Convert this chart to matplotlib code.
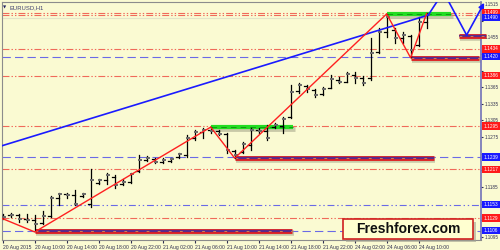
import matplotlib.pyplot as plt
import matplotlib.transforms as mtransforms
from matplotlib.patches import Rectangle

# EURUSD H1, 20 Aug 06:00 .. 24 Aug 11:00
opens = [1.11328, 1.11346, 1.11346, 1.11273, 1.11255, 1.11201, 1.11328, 1.11652, 1.11724, 1.11706,
         1.11688, 1.11544, 1.11922, 1.11977, 1.12031, 1.11904, 1.11940, 1.12139, 1.12337, 1.12355,
         1.12301, 1.12319, 1.12391, 1.12427, 1.12734, 1.12842, 1.12878, 1.12860, 1.12806, 1.12500,
         1.12482, 1.12608, 1.12878, 1.12860, 1.12932, 1.12950, 1.13112, 1.13581, 1.13672, 1.13599,
         1.13527, 1.13635, 1.13780, 1.13744, 1.13870, 1.13816, 1.13816, 1.14285, 1.14645, 1.14681,
         1.14537, 1.14573, 1.14411, 1.14826]
highs = [1.11364, 1.11382, 1.11364, 1.11364, 1.11346, 1.11418, 1.11688, 1.11742, 1.11742, 1.11796,
         1.11742, 1.12175, 1.11995, 1.12103, 1.12067, 1.11995, 1.12103, 1.12427, 1.12409, 1.12373,
         1.12373, 1.12373, 1.12463, 1.12788, 1.12878, 1.12914, 1.12932, 1.12878, 1.12824, 1.12518,
         1.12662, 1.12914, 1.12914, 1.12968, 1.13004, 1.13112, 1.13690, 1.13726, 1.13690, 1.13617,
         1.13653, 1.13870, 1.13834, 1.13924, 1.13924, 1.13852, 1.14537, 1.14717, 1.14970, 1.14717,
         1.14645, 1.14591, 1.14916, 1.14988]
lows = [1.11273, 1.11310, 1.11219, 1.11219, 1.11057, 1.11183, 1.11310, 1.11526, 1.11652, 1.11526,
        1.11670, 1.11490, 1.11904, 1.11904, 1.11832, 1.11886, 1.11922, 1.12121, 1.12319, 1.12283,
        1.12283, 1.12301, 1.12373, 1.12391, 1.12698, 1.12734, 1.12824, 1.12788, 1.12463, 1.12373,
        1.12463, 1.12518, 1.12824, 1.12698, 1.12914, 1.12824, 1.13095, 1.13545, 1.13563, 1.13473,
        1.13509, 1.13635, 1.13726, 1.13744, 1.13726, 1.13690, 1.13780, 1.14267, 1.14555, 1.14447,
        1.14447, 1.14194, 1.14393, 1.14717]
closes = [1.11310, 1.11346, 1.11273, 1.11255, 1.11183, 1.11328, 1.11652, 1.11724, 1.11706, 1.11544,
          1.11724, 1.11977, 1.11977, 1.12067, 1.11886, 1.11940, 1.12085, 1.12337, 1.12373, 1.12301,
          1.12337, 1.12355, 1.12445, 1.12734, 1.12842, 1.12878, 1.12860, 1.12806, 1.12518, 1.12427,
          1.12626, 1.12878, 1.12860, 1.12734, 1.12968, 1.13076, 1.13563, 1.13690, 1.13617, 1.13509,
          1.13617, 1.13798, 1.13744, 1.13888, 1.13816, 1.13726, 1.14267, 1.14645, 1.14916, 1.14537,
          1.14591, 1.14321, 1.14826, 1.14952]

time_labels = ["20 Aug 2015", "20 Aug 10:00", "20 Aug 14:00", "20 Aug 18:00", "20 Aug 22:00",
               "21 Aug 02:00", "21 Aug 06:00", "21 Aug 10:00", "21 Aug 14:00", "21 Aug 18:00",
               "21 Aug 22:00", "24 Aug 02:00", "24 Aug 06:00", "24 Aug 10:00"]
price_ticks = [1.1095, 1.1125, 1.1155, 1.1185, 1.1215, 1.1245, 1.1275, 1.1305, 1.1335, 1.1365,
               1.1395, 1.1425, 1.1455, 1.1485, 1.1515]

red_levels = [1.1499, 1.1495, 1.1434, 1.1386, 1.1295, 1.1217, 1.1129]
red_tags = [1.1499, 1.1434, 1.1386, 1.1295, 1.1217, 1.1129]
blue_levels = [1.1420, 1.1239, 1.1153, 1.1106]
blue_styles = ["dash", "dash", "dashdot", "dash"]
bid_level = 1.1490

zigzag_x = [-0.2, 4, 26, 29, 48, 51, 53]
zigzag_y = [1.1129, 1.1104, 1.1293, 1.1237, 1.1497, 1.1418, 1.1498]
trend_x = [-0.2, 53.2]
trend_y = [1.1259, 1.1495]
proj_x = [53.2, 55.1, 58.0]
proj_y = [1.1495, 1.1537, 1.1459]
proj_end = (60.2, 1.1517)

green_zones = [(26, 36.3, 1.1293), (48, 56.1, 1.1497)]
red_zones = [(4, 36.2, 1.1105), (29, 53.9, 1.1238), (51, 59.6, 1.1418), (57, 60.4, 1.1457)]

BG = "#fafad2"
RED = "#f06a5a"
BLUE = "#6a6ae6"
FONT = "Liberation Sans"

plt.rcParams["lines.scale_dashes"] = False
plt.rcParams["font.family"] = FONT
fig = plt.figure(figsize=(5, 2.5), dpi=100, facecolor=BG)
ax = fig.add_axes([2 / 500, 10 / 250, 479 / 500, 238 / 250], facecolor=BG)
ax.set_xlim(-0.1, 59.8)
ax.set_ylim(1.10895, 1.15186)

# support / resistance levels
for v in red_levels:
    ax.axhline(v, color=RED, lw=0.8, dashes=(5, 1.5, 1, 1.5, 1, 1.5), zorder=1)
for v, s in zip(blue_levels, blue_styles):
    d = (6, 3) if s == "dash" else (5, 2, 1, 2, 1, 2)
    ax.axhline(v, color=BLUE, lw=0.8, dashes=d, zorder=1)
ax.axhline(bid_level, color="#e4e4c8", lw=0.8, zorder=1)


def shadowed(xs, ys, lw):
    sh = mtransforms.offset_copy(ax.transData, fig=fig, x=1.5, y=-2, units="dots")
    ax.plot(xs, ys, color="#9a9a80", alpha=0.5, lw=lw + 0.5,
            transform=sh, solid_capstyle="butt", zorder=2)


for x0, x1, y in green_zones:
    shadowed([x0, x1], [y, y], 3)
    ax.plot([x0, x1], [y, y], color="#22dd22", lw=3, solid_capstyle="butt", zorder=3)
    ax.plot([x0, x1], [y, y], color="#119911", lw=0.7, dashes=(4, 3), zorder=3)

for x0, x1, y in red_zones:
    shadowed([x0, x1], [y, y], 3.5)
    ax.plot([x0, x1], [y, y], color="#e02020", lw=3.5, solid_capstyle="butt",
            zorder=3, clip_on=False)
    ax.plot([x0, x1], [y, y], color="#5a2a8a", lw=1.6, solid_capstyle="butt",
            zorder=3, clip_on=False)
    ax.plot([x0, x1], [y, y], color="#e09050", lw=0.6, dashes=(2, 6), zorder=3, clip_on=False)

# OHLC bars
for i, (o, h, l, c) in enumerate(zip(opens, highs, lows, closes)):
    ax.plot([i, i], [l, h], color="black", lw=0.9, zorder=4)
    ax.plot([i - 0.3, i], [o, o], color="black", lw=0.9, zorder=4)
    ax.plot([i, i + 0.3], [c, c], color="#6a6a6a", lw=1.4, zorder=4)

# trend lines
ax.plot(trend_x, trend_y, color="#1a1aff", lw=1.2, zorder=5)
ax.plot(zigzag_x, zigzag_y, color="#ff2020", lw=1.0, zorder=5)
ax.plot(proj_x, proj_y, color="#1a1aff", lw=1.2, zorder=5)
ax.annotate("", xy=proj_end, xytext=(proj_x[-1], proj_y[-1]), annotation_clip=False,
            arrowprops=dict(arrowstyle="-|>", color="#1a1aff", lw=1.2,
                            mutation_scale=8, shrinkA=0, shrinkB=0), zorder=6)

# axes styling
for s in ["left", "top", "bottom"]:
    ax.spines[s].set_color("#8c8c8c")
    ax.spines[s].set_linewidth(0.8)
ax.spines["right"].set_color("#7070b8")
ax.spines["right"].set_linewidth(1.2)
ax.yaxis.tick_right()
tagged = red_tags + blue_levels + [bid_level]
ax.set_yticks(price_ticks)
ax.set_yticklabels(["" if any(abs(v - t) < 0.0009 for t in tagged) else f"{v:.4f}"
                    for v in price_ticks])
ax.tick_params(axis="y", length=1.5, pad=0.8, labelsize=3.3, colors="#303050")
ax.set_xticks(range(0, 4 * len(time_labels), 4))
ax.set_xticklabels(time_labels, ha="left")
ax.tick_params(axis="x", length=2, pad=1.5, labelsize=3.6, colors="#303050")

# coloured price labels on the right scale
blend = mtransforms.blended_transform_factory(ax.transAxes, ax.transData)
h = 0.0013
for levels, fc in [(red_tags, "#ff1a1a"), (blue_levels + [bid_level], "#1a1aff")]:
    for v in levels:
        ax.add_patch(Rectangle((1.0015, v - h / 2), 18.5 / 479, h, transform=blend,
                               facecolor=fc, edgecolor="none", clip_on=False, zorder=7))
        ax.text(1.0015 + 9.2 / 479, v, f"{v:.4f}", transform=blend, ha="center",
                va="center", fontsize=3.4, color="white", zorder=8, clip_on=False)

ax.text(0.003, 0.985, "\u25bc", transform=ax.transAxes, fontsize=3, color="#202060",
        va="top", ha="left", family="DejaVu Sans")
ax.text(0.016, 0.988, "EURUSD,H1", transform=ax.transAxes, fontsize=4.2,
        color="#404070", va="top", ha="left")

# watermark box
fig.add_artist(Rectangle((346 / 500, 8 / 250), 130 / 500, 20 / 250,
                         transform=fig.transFigure, facecolor="#a0a090", alpha=0.6,
                         edgecolor="none", zorder=9))
fig.add_artist(Rectangle((343 / 500, 11 / 250), 130 / 500, 20 / 250,
                         transform=fig.transFigure, facecolor="#ffffd0",
                         edgecolor="#d02020", lw=1.2, zorder=10))
fig.text(408 / 500, 21 / 250, "Freshforex.com", ha="center", va="center",
         fontsize=10, fontweight="bold", color="#101010", zorder=11)

fig.savefig("out.png", dpi=100, facecolor=BG)
